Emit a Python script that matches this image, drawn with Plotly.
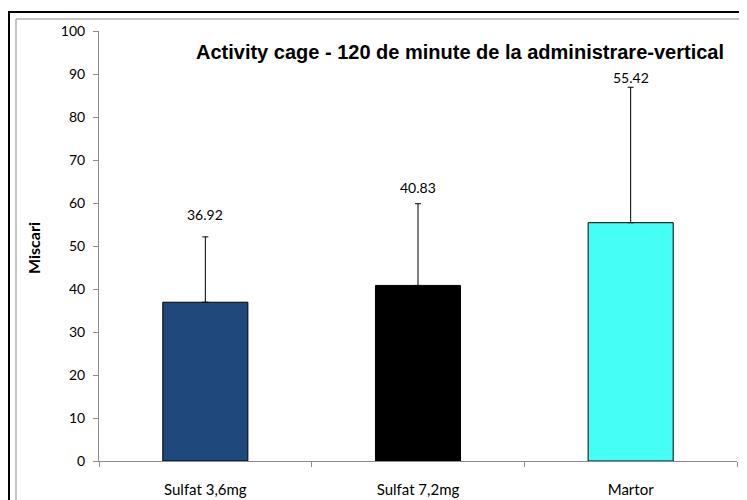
import plotly.graph_objects as go

categories = ["Sulfat 3,6mg", "Sulfat 7,2mg", "Martor"]
values = [36.92, 40.83, 55.42]
errors = [15.2, 19.0, 31.5]
label_texts = ["36.92", "40.83", "55.42"]
colors = ["#1F497D", "#000000", "#45FFF7"]
y_ticks = list(range(0, 101, 10))

# The page body has an 8px margin, so the figure is sized to fit the window.
OFF = 8
W, H = 747 - OFF, 500 - OFF
L, R, T, B = 99 - OFF, 10, 31 - OFF, 39
pw, ph = W - L - R, H - T - B

def px_x(x):  # page pixel -> paper
    return (x - OFF - L) / pw

def px_y(y):
    return (H - B - (y - OFF)) / ph

fig = go.Figure()
fig.add_trace(go.Bar(
    x=categories, y=values, width=0.4,
    marker=dict(color=colors, line=dict(color="#000000", width=1)),
    error_y=dict(type="data", symmetric=False, array=errors,
                 arrayminus=[0] * len(errors), color="#000000",
                 thickness=1, width=3),
    showlegend=False, hoverinfo="skip",
))

label_shift = [22, 16, 10]
for c, v, e, t, s in zip(categories, values, errors, label_texts, label_shift):
    fig.add_annotation(x=c, y=v + e, text=t, showarrow=False,
                       yanchor="middle", yshift=s,
                       font=dict(family="Lato", size=14, color="#000000"))

fig.add_annotation(xref="paper", yref="paper", x=px_x(460), y=px_y(52),
                   text="<b>Activity cage - 120 de minute de la administrare-vertical</b>",
                   showarrow=False, xanchor="center", yanchor="middle",
                   font=dict(family="Liberation Sans", size=20, color="#000000"))

fig.add_annotation(xref="paper", yref="paper", x=px_x(33), y=px_y(248),
                   text="<b>Miscari</b>", textangle=-90, showarrow=False,
                   xanchor="center", yanchor="middle",
                   font=dict(family="Lato", size=16, color="#000000"))

fig.add_shape(type="rect", xref="paper", yref="paper",
              x0=px_x(9), x1=px_x(790), y0=px_y(12), y1=px_y(560),
              line=dict(color="#000000", width=2), fillcolor="rgba(0,0,0,0)")
fig.add_shape(type="rect", xref="paper", yref="paper",
              x0=px_x(16), x1=px_x(780), y0=px_y(19), y1=px_y(550),
              line=dict(color="#8C8C8C", width=1), fillcolor="rgba(0,0,0,0)")

fig.update_layout(
    width=W, height=H,
    margin=dict(l=L, r=R, t=T, b=B, pad=0, autoexpand=False),
    paper_bgcolor="white", plot_bgcolor="white",
    font=dict(family="Lato", size=14, color="#000000"),
)
fig.update_xaxes(
    range=[-0.5, 2.5], showgrid=False, showline=True, linecolor="#8C8C8C",
    linewidth=1, ticks="outside", tickson="boundaries", ticklen=5,
    tickcolor="#8C8C8C", ticklabelstandoff=15, automargin=False,
    tickfont=dict(family="Lato", size=15, color="#000000"), zeroline=False,
)
fig.update_yaxes(
    range=[0, 100], tickvals=y_ticks, showgrid=False, showline=True,
    linecolor="#8C8C8C", linewidth=1, ticks="outside", ticklen=5,
    tickcolor="#8C8C8C", ticklabelstandoff=5, automargin=False,
    tickfont=dict(family="Lato", size=14, color="#000000"), zeroline=False,
)

fig.write_html("out.html")
